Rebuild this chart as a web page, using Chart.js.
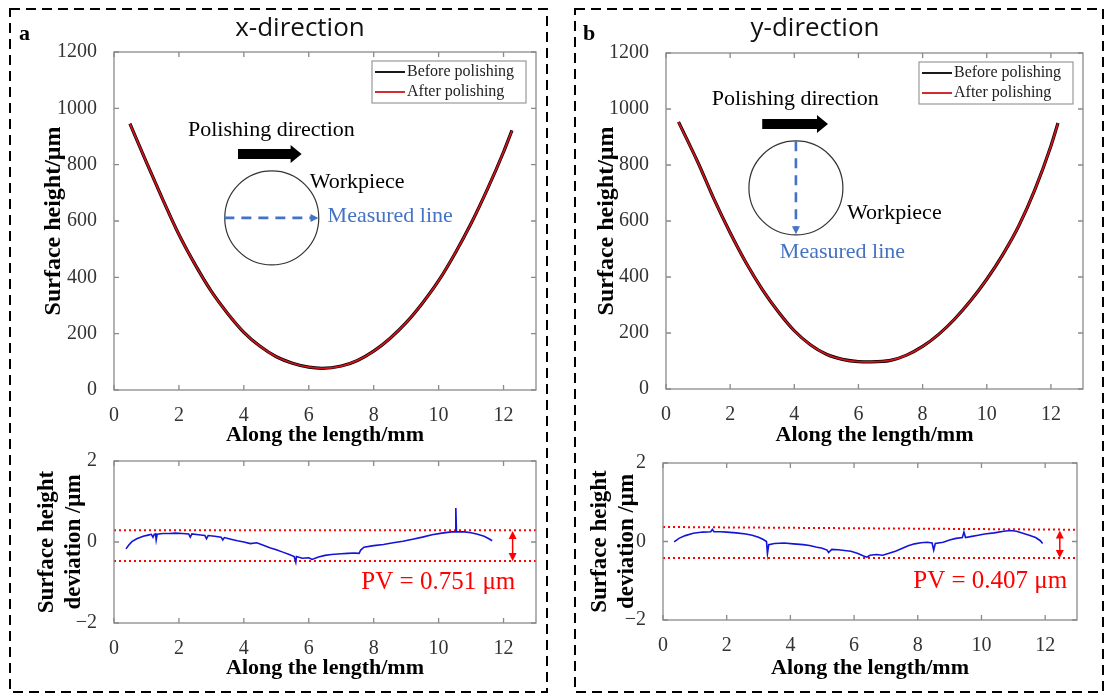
<!DOCTYPE html>
<html>
<head>
<meta charset="utf-8">
<script src="https://cdn.jsdelivr.net/npm/chart.js@4.4.1/dist/chart.umd.min.js"></script>
<style>
  body { margin: 0; background: #fff; }
  #page { position: relative; width: 1105px; height: 695px; overflow: hidden; background: #fff; }
  canvas { position: absolute; }
  .tag { position: absolute; font-family: "Liberation Serif", serif; font-weight: bold; font-size: 22px; color: #000; }
  .ttl { position: absolute; font-family: "Open Sans", sans-serif; font-size: 26px; color: #111; transform: translateX(-50%); white-space: nowrap; }
</style>
</head>
<body>
<div id="page">
  <canvas id="frame" width="1105" height="695" style="left:0;top:0"></canvas>
  <div class="tag" style="left:19px;top:20px">a</div>
  <div class="ttl" style="left:300px;top:8px">x-direction</div>
  <div class="tag" style="left:583px;top:20px">b</div>
  <div class="ttl" style="left:815px;top:8px">y-direction</div>
  <canvas id="chartA" width="526" height="428" style="left:20px;top:32px"></canvas>
  <canvas id="chartAd" width="526" height="241" style="left:20px;top:441px"></canvas>
  <canvas id="chartB" width="522" height="426" style="left:571px;top:33px"></canvas>
  <canvas id="chartBd" width="522" height="239" style="left:571px;top:443px"></canvas>
</div>
<script>
// ---- data ----
const xTicks = [0, 2, 4, 6, 8, 10, 12];
const heightTicks = [0, 200, 400, 600, 800, 1000, 1200];
const devTicks = [-2, 0, 2];

// x-direction profile (mm, um)
const lenA = [0.49, 1.0, 1.5, 2.0, 2.5, 3.0, 3.5, 4.0, 4.5, 5.0, 5.5, 6.0, 6.4, 7.0, 7.5, 8.0, 8.5, 9.0, 9.5, 10.0, 10.5, 11.0, 11.5, 12.0, 12.26];
const beforeA = [946, 808, 677, 552, 445, 350, 272, 205, 155, 118, 95, 81, 77, 85, 105, 138, 183, 239, 308, 388, 484, 591, 712, 845, 922];
const afterA = [945, 808, 677, 552, 445, 350, 272, 205, 155, 118, 95, 81, 77, 85, 105, 138, 183, 239, 308, 388, 484, 591, 712, 845, 921];

// y-direction profile
const lenB = [0.39, 1.0, 1.5, 2.0, 2.5, 3.0, 3.5, 4.0, 4.5, 5.0, 5.5, 6.0, 6.4, 7.0, 7.5, 8.0, 8.5, 9.0, 9.5, 10.0, 10.5, 11.0, 11.5, 12.0, 12.22];
const beforeB = [954, 808, 677, 558, 450, 356, 276, 208, 158, 124, 106, 98, 97, 102, 121, 152, 195, 250, 316, 392, 480, 583, 712, 868, 950];
const afterB = [953, 808, 677, 558, 450, 356, 276, 208, 158, 124, 106, 98, 97, 102, 121, 152, 195, 250, 316, 392, 480, 583, 712, 868, 949];

// deviation, x-direction
const devLenA = [0.37, 0.45, 0.55, 0.7, 0.9, 1.05, 1.15, 1.2, 1.24, 1.28, 1.3, 1.33, 1.5, 1.7, 1.9, 2.1, 2.3, 2.35, 2.4, 2.6, 2.8, 2.85, 2.9, 3.1, 3.3, 3.35, 3.4, 3.6, 3.8, 4.0, 4.2, 4.4, 4.6, 4.8, 5.0, 5.2, 5.4, 5.55, 5.6, 5.62, 5.8, 6.0, 6.1, 6.3, 6.5, 6.7, 7.0, 7.2, 7.4, 7.55, 7.6, 7.7, 8.0, 8.3, 8.6, 8.9, 9.2, 9.5, 9.8, 10.1, 10.4, 10.52, 10.53, 10.55, 10.8, 11.0, 11.2, 11.4, 11.55, 11.65];
const devA = [-0.17, -0.08, 0.01, 0.08, 0.14, 0.17, 0.19, 0.12, 0.19, 0.2, 0.05, 0.19, 0.21, 0.21, 0.22, 0.21, 0.2, 0.12, 0.2, 0.18, 0.16, 0.08, 0.16, 0.14, 0.12, 0.05, 0.11, 0.07, 0.03, 0.0, -0.04, -0.02, -0.08, -0.14, -0.19, -0.25, -0.31, -0.36, -0.5, -0.36, -0.4, -0.39, -0.43, -0.37, -0.33, -0.31, -0.29, -0.28, -0.27, -0.28, -0.2, -0.13, -0.09, -0.06, -0.02, 0.02, 0.07, 0.12, 0.18, 0.22, 0.25, 0.25, 0.84, 0.25, 0.25, 0.23, 0.19, 0.14, 0.08, 0.03];

// deviation, y-direction
const devLenB = [0.35, 0.5, 0.7, 0.95, 1.25, 1.5, 1.55, 1.6, 1.8, 2.0, 2.3, 2.6, 2.8, 3.0, 3.15, 3.25, 3.28, 3.32, 3.5, 3.8, 4.1, 4.4, 4.6, 4.8, 5.0, 5.15, 5.2, 5.3, 5.5, 5.7, 5.9, 6.1, 6.3, 6.4, 6.5, 6.7, 6.9, 7.1, 7.3, 7.5, 7.7, 7.9, 8.1, 8.3, 8.45, 8.5, 8.55, 8.8, 9.0, 9.2, 9.4, 9.45, 9.5, 9.7, 9.9, 10.1, 10.4, 10.7, 10.9, 11.1, 11.3, 11.5, 11.7, 11.85, 11.92];
const devB = [-0.01, 0.08, 0.15, 0.21, 0.24, 0.25, 0.31, 0.25, 0.25, 0.24, 0.22, 0.19, 0.16, 0.11, 0.05, 0.0, -0.31, -0.08, -0.05, -0.04, -0.06, -0.08, -0.1, -0.14, -0.17, -0.22, -0.28, -0.2, -0.21, -0.23, -0.25, -0.3, -0.37, -0.4, -0.35, -0.33, -0.35, -0.3, -0.25, -0.18, -0.11, -0.06, -0.03, -0.02, -0.04, -0.22, -0.05, -0.02, 0.04, 0.08, 0.1, 0.24, 0.1, 0.13, 0.16, 0.19, 0.22, 0.26, 0.28, 0.26, 0.21, 0.16, 0.1, 0.02, -0.05];

// peak / valley guide lines (value at x = 0 and x = 13)
const peakA = [0.29, 0.29];
const valleyA = [-0.47, -0.47];
const peakB = [0.37, 0.30];
const valleyB = [-0.42, -0.42];
const pvTextA = 'PV = 0.751 \u03bcm';
const pvTextB = 'PV = 0.407 \u03bcm';

// ---- helpers ----
function pts(xs, ys) {
    return xs.map(function (x, i) { return { x: x, y: ys[i] }; });
}

const serif = '"Liberation Serif", "Times New Roman", serif';
const tickFont = { family: serif, size: 20, lineHeight: 1.2 };
const xTitleFont = { family: serif, size: 22, weight: 'bold', lineHeight: 1.2 };
const BOX = '#8a8a8a';

function minusFmt(v) {
    return v < 0 ? '\u2212' + (-v) : String(v);
}

// box with inward ticks on all sides, plus the small legend
const matlabAxes = {
    id: 'matlabAxes',
    afterDatasetsDraw(chart, args, opts) {
        const ctx = chart.ctx;
        const a = chart.chartArea;
        const sx = chart.scales.x, sy = chart.scales.y;
        ctx.save();
        ctx.strokeStyle = BOX;
        ctx.lineWidth = 1.3;
        ctx.strokeRect(a.left, a.top, a.right - a.left, a.bottom - a.top);
        ctx.beginPath();
        sx.ticks.forEach(function (t) {
            const p = sx.getPixelForValue(t.value);
            ctx.moveTo(p, a.bottom); ctx.lineTo(p, a.bottom - 5);
            ctx.moveTo(p, a.top); ctx.lineTo(p, a.top + 5);
        });
        sy.ticks.forEach(function (t) {
            const p = sy.getPixelForValue(t.value);
            ctx.moveTo(a.left, p); ctx.lineTo(a.left + 5, p);
            ctx.moveTo(a.right, p); ctx.lineTo(a.right - 5, p);
        });
        ctx.stroke();

        if (opts.legend) {
            const items = chart.data.datasets.filter(function (d) { return d.label; });
            const w = 154, h = 42;
            const lx = a.right - 10 - w, ly = a.top + 9;
            ctx.fillStyle = '#fff';
            ctx.fillRect(lx, ly, w, h);
            ctx.strokeStyle = '#999';
            ctx.lineWidth = 1.2;
            ctx.strokeRect(lx, ly, w, h);
            ctx.font = '16px ' + serif;
            ctx.textBaseline = 'middle';
            items.forEach(function (d, i) {
                const yy = ly + 11 + i * 20;
                ctx.strokeStyle = d.borderColor;
                ctx.lineWidth = 1.8;
                ctx.beginPath();
                ctx.moveTo(lx + 3, yy); ctx.lineTo(lx + 33, yy);
                ctx.stroke();
                ctx.fillStyle = '#222';
                ctx.fillText(d.label, lx + 35, yy);
            });
        }
        ctx.restore();
    }
};

// sketch items placed in data coordinates
const sketch = {
    id: 'sketch',
    afterDatasetsDraw(chart, args, opts) {
        const items = opts.items || [];
        const ctx = chart.ctx;
        const px = function (v) { return chart.scales.x.getPixelForValue(v); };
        const py = function (v) { return chart.scales.y.getPixelForValue(v); };
        ctx.save();
        items.forEach(function (it) {
            if (it.type === 'text') {
                ctx.font = it.font;
                ctx.fillStyle = it.color;
                ctx.textAlign = 'left';
                ctx.textBaseline = 'middle';
                ctx.fillText(it.text, px(it.x), py(it.y));
            } else if (it.type === 'block') {
                const x0 = px(it.x0), x1 = px(it.x1), y = py(it.y);
                ctx.fillStyle = '#000';
                ctx.beginPath();
                ctx.moveTo(x0, y - 5); ctx.lineTo(x1 - 11, y - 5); ctx.lineTo(x1 - 11, y - 9);
                ctx.lineTo(x1, y); ctx.lineTo(x1 - 11, y + 9); ctx.lineTo(x1 - 11, y + 5);
                ctx.lineTo(x0, y + 5); ctx.closePath();
                ctx.fill();
            } else if (it.type === 'circle') {
                ctx.strokeStyle = '#333';
                ctx.lineWidth = 1.2;
                ctx.beginPath();
                ctx.arc(px(it.x), py(it.y), it.r, 0, Math.PI * 2);
                ctx.stroke();
            } else if (it.type === 'dash') {
                const x0 = px(it.x0), y0 = py(it.y0), x1 = px(it.x1), y1 = py(it.y1);
                const ang = Math.atan2(y1 - y0, x1 - x0);
                ctx.strokeStyle = '#4472C4';
                ctx.fillStyle = '#4472C4';
                ctx.lineWidth = 2.6;
                ctx.setLineDash([10, 7]);
                ctx.beginPath();
                ctx.moveTo(x0, y0);
                ctx.lineTo(x1 - 7 * Math.cos(ang), y1 - 7 * Math.sin(ang));
                ctx.stroke();
                ctx.setLineDash([]);
                ctx.beginPath();
                ctx.moveTo(x1, y1);
                ctx.lineTo(x1 - 8 * Math.cos(ang) - 4 * Math.sin(ang), y1 - 8 * Math.sin(ang) + 4 * Math.cos(ang));
                ctx.lineTo(x1 - 8 * Math.cos(ang) + 4 * Math.sin(ang), y1 - 8 * Math.sin(ang) - 4 * Math.cos(ang));
                ctx.closePath();
                ctx.fill();
            } else if (it.type === 'span') {
                const x = px(it.x), y0 = py(it.y0), y1 = py(it.y1);
                ctx.strokeStyle = '#f00';
                ctx.fillStyle = '#f00';
                ctx.lineWidth = 1.5;
                ctx.beginPath();
                ctx.moveTo(x, y0 + 6); ctx.lineTo(x, y1 - 6);
                ctx.stroke();
                ctx.beginPath();
                ctx.moveTo(x, y0); ctx.lineTo(x - 4, y0 + 8); ctx.lineTo(x + 4, y0 + 8); ctx.closePath();
                ctx.moveTo(x, y1); ctx.lineTo(x - 4, y1 - 8); ctx.lineTo(x + 4, y1 - 8); ctx.closePath();
                ctx.fill();
            }
        });
        ctx.restore();
    }
};

function makeScales(yTicks, yMin, yMax, yTitle, yTitleSize, yW, xH, yTitlePad, xTitlePad) {
    return {
        x: {
            type: 'linear', min: 0, max: 13,
            grid: { display: false }, border: { display: false },
            afterBuildTicks: function (s) { s.ticks = xTicks.map(function (v) { return { value: v }; }); },
            afterFit: function (s) { s.height = xH; s.paddingLeft = 0; s.paddingRight = 0; },
            ticks: { font: tickFont, color: '#333', padding: 6, maxRotation: 0, callback: minusFmt },
            title: { display: true, text: 'Along the length/mm', font: xTitleFont, color: '#000', padding: { top: 0, bottom: xTitlePad } }
        },
        y: {
            type: 'linear', min: yMin, max: yMax,
            grid: { display: false }, border: { display: false },
            afterBuildTicks: function (s) { s.ticks = yTicks.map(function (v) { return { value: v }; }); },
            afterFit: function (s) { s.width = yW; s.paddingTop = 0; s.paddingBottom = 0; },
            ticks: { font: tickFont, color: '#333', padding: 9, callback: minusFmt },
            title: {
                display: true, text: yTitle, color: '#000',
                font: { family: serif, size: yTitleSize, weight: 'bold', lineHeight: 1.2 },
                padding: { top: yTitlePad, bottom: 0 }
            }
        }
    };
}

function profileChart(id, xs, before, after, scales, pad, items) {
    return new Chart(document.getElementById(id), {
        type: 'line',
        data: {
            datasets: [
                { label: 'Before polishing', data: pts(xs, before), borderColor: '#000', borderWidth: 3.2, pointRadius: 0, cubicInterpolationMode: 'monotone', order: 2 },
                { label: 'After polishing', data: pts(xs, after), borderColor: '#d0141c', borderWidth: 1.8, pointRadius: 0, cubicInterpolationMode: 'monotone', order: 1 }
            ]
        },
        options: {
            responsive: false, animation: false,
            layout: { padding: pad },
            scales: scales,
            plugins: { legend: { display: false }, tooltip: { enabled: false }, matlabAxes: { legend: true }, sketch: { items: items } }
        },
        plugins: [matlabAxes, sketch]
    });
}

function deviationChart(id, xs, ys, peak, valley, scales, pad, items) {
    const guide = function (vals) {
        return { data: pts([0, 13], vals), borderColor: '#f00', borderWidth: 2, borderDash: [2, 3], pointRadius: 0, order: 2 };
    };
    return new Chart(document.getElementById(id), {
        type: 'line',
        data: {
            datasets: [
                { data: pts(xs, ys), borderColor: '#1414d8', borderWidth: 1.6, pointRadius: 0, tension: 0, order: 1 },
                guide(peak),
                guide(valley)
            ]
        },
        options: {
            responsive: false, animation: false,
            layout: { padding: pad },
            scales: scales,
            plugins: { legend: { display: false }, tooltip: { enabled: false }, matlabAxes: { legend: false }, sketch: { items: items } }
        },
        plugins: [matlabAxes, sketch]
    });
}

const fontNote = '22px ' + serif;

profileChart('chartA', lenA, beforeA, afterA,
    makeScales(heightTicks, 0, 1200, 'Surface height/\u03bcm', 24, 94, 70, 19, 11),
    { top: 20, right: 10, left: 0, bottom: 0 },
    [
        { type: 'text', text: 'Polishing direction', x: 2.28, y: 923, font: fontNote, color: '#000' },
        { type: 'block', x0: 3.82, x1: 5.78, y: 838 },
        { type: 'circle', x: 4.86, y: 611, r: 47 },
        { type: 'dash', x0: 3.4, y0: 611, x1: 6.3, y1: 611 },
        { type: 'text', text: 'Workpiece', x: 6.03, y: 738, font: fontNote, color: '#000' },
        { type: 'text', text: 'Measured line', x: 6.58, y: 618, font: fontNote, color: '#4472C4' }
    ]);

deviationChart('chartAd', devLenA, devA, peakA, valleyA,
    makeScales(devTicks, -2, 2, ['Surface height', 'deviation /\u03bcm'], 23, 94, 59, 13, 0),
    { top: 20, right: 10, left: 0, bottom: 0 },
    [
        { type: 'span', x: 12.28, y0: 0.27, y1: -0.47 },
        { type: 'text', text: pvTextA, x: 7.62, y: -0.99, font: '25px ' + serif, color: '#f00' }
    ]);

profileChart('chartB', lenB, beforeB, afterB,
    makeScales(heightTicks, 0, 1200, 'Surface height/\u03bcm', 24, 95, 70, 21, 10),
    { top: 20, right: 10, left: 0, bottom: 0 },
    [
        { type: 'text', text: 'Polishing direction', x: 1.43, y: 1035, font: fontNote, color: '#000' },
        { type: 'block', x0: 3.0, x1: 5.05, y: 946 },
        { type: 'circle', x: 4.05, y: 718, r: 47 },
        { type: 'dash', x0: 4.05, y0: 885, x1: 4.05, y1: 553 },
        { type: 'text', text: 'Workpiece', x: 5.64, y: 628, font: fontNote, color: '#000' },
        { type: 'text', text: 'Measured line', x: 3.55, y: 489, font: fontNote, color: '#4472C4' }
    ]);

deviationChart('chartBd', devLenB, devB, peakB, valleyB,
    makeScales(devTicks, -2, 2, ['Surface height', 'deviation /\u03bcm'], 23, 92, 62, 15, 0),
    { top: 20, right: 16, left: 0, bottom: 0 },
    [
        { type: 'span', x: 12.46, y0: 0.28, y1: -0.42 },
        { type: 'text', text: pvTextB, x: 7.86, y: -1.03, font: '25px ' + serif, color: '#f00' }
    ]);

// dashed panel frames
const fctx = document.getElementById('frame').getContext('2d');
fctx.strokeStyle = '#000';
fctx.lineWidth = 2;
fctx.setLineDash([10, 6]);
fctx.strokeRect(10, 9, 537, 683);
fctx.strokeRect(575, 9, 528, 683);
</script>
</body>
</html>
